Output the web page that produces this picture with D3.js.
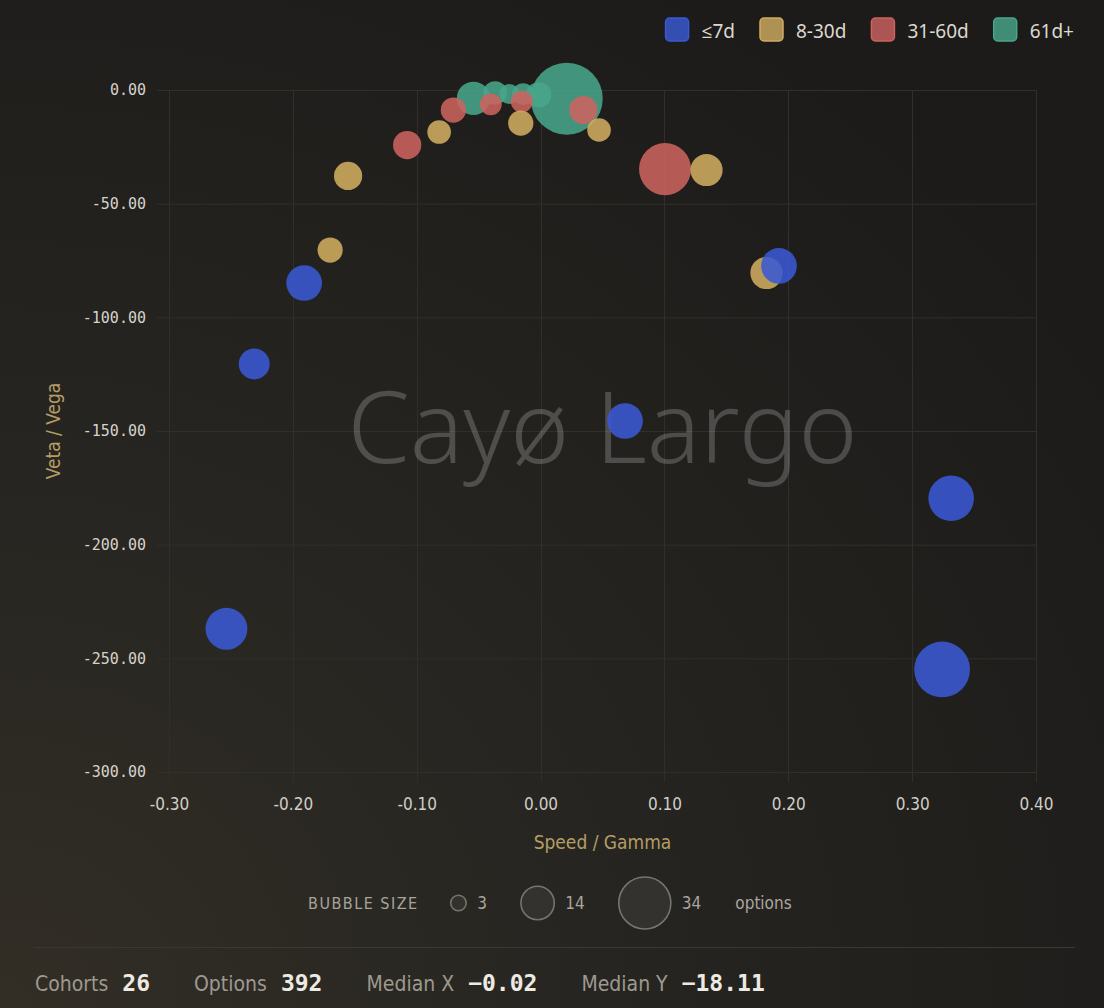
<!DOCTYPE html>
<html><head><meta charset="utf-8">
<script src="https://cdn.jsdelivr.net/npm/d3@7"></script>
<style>
html,body{margin:0;padding:0;background:#1e1d1b;overflow:hidden;}
svg{display:block;}
.cond{font-family:"DejaVu Sans Condensed","DejaVu Sans",sans-serif;font-stretch:condensed;}
.mono{font-family:"DejaVu Sans Mono",monospace;}
.sans{font-family:"Noto Sans","Open Sans",sans-serif;}
</style></head><body>
<svg id="chart" width="1104" height="1008"></svg>
<script>
// ---------- data ----------
const groups = ["≤7d", "8-30d", "31-60d", "61d+"];
const speedBlue  = [-0.2536, -0.2312, -0.1909, 0.0682, 0.1925, 0.3315, 0.3242];
const vetaBlue   = [-237.0, -120.5, -84.9, -145.6, -77.4, -179.6, -254.9];
const countBlue  = [22, 12, 16, 16, 16, 26, 39];
const speedGold  = [-0.1699, -0.1554, -0.0819, -0.0160, 0.0472, 0.1340, 0.1824];
const vetaGold   = [-70.4, -37.8, -18.5, -14.6, -17.6, -35.2, -80.5];
const countGold  = [8, 10, 7, 8, 7, 13, 13];
const speedRed   = [-0.1077, -0.0704, -0.0402, -0.0152, 0.0345, 0.1005];
const vetaRed    = [-24.2, -8.8, -6.3, -5.1, -8.8, -34.8];
const countRed   = [10, 8, 6, 6, 10, 34];
const speedGreen = [-0.0542, -0.0367, -0.0252, -0.0141, -0.0015, 0.0211];
const vetaGreen  = [-3.7, -1.3, -1.8, -1.8, -2.1, -3.8];
const countGreen = [14, 7, 5, 6, 8, 65];
const xTicks = [-0.3, -0.2, -0.1, 0, 0.1, 0.2, 0.3, 0.4];
const yTicks = [0, -50, -100, -150, -200, -250, -300];
const sizeLegendValues = [3, 14, 34];
const footerLabels = ["Cohorts", "Options", "Median X", "Median Y"];
const footerValues = ["26", "392", "\u22120.02", "\u221218.11"];
const watermarkText = "Cayø Largo";
const xTitle = "Speed / Gamma";
const yTitle = "Veta / Vega";

// ---------- styles ----------
const colors = ["#3a59d4", "#cfad60", "#cc635f", "#48a68a"];
const W = 1104, H = 1008;
const M = {left: 169, right: 1036, top: 90, bottom: 772};

const seriesSpeed = [speedBlue, speedGold, speedRed, speedGreen];
const seriesVeta = [vetaBlue, vetaGold, vetaRed, vetaGreen];
const seriesCount = [countBlue, countGold, countRed, countGreen];
const points = [];
groups.forEach((g, gi) => {
  seriesSpeed[gi].forEach((s, i) => points.push({g: gi, x: s, y: seriesVeta[gi][i], n: seriesCount[gi][i]}));
});

const svg = d3.select("#chart");
const defs = svg.append("defs");
const rg = defs.append("radialGradient").attr("id", "bg").attr("cx", "0%").attr("cy", "100%").attr("r", "120%");
rg.append("stop").attr("offset", "0%").attr("stop-color", "#322e26");
rg.append("stop").attr("offset", "55%").attr("stop-color", "#242320");
rg.append("stop").attr("offset", "100%").attr("stop-color", "#1c1b19");
svg.append("rect").attr("width", W).attr("height", H).attr("fill", "url(#bg)");

const x = d3.scaleLinear().domain([-0.3, 0.4]).range([M.left, M.right]);
const y = d3.scaleLinear().domain([-300, 0]).range([M.bottom, M.top]);
const r = d3.scaleSqrt().domain([0, 65]).range([0, 36]);
const fmt = d => d3.format(".2f")(d).replace("\u2212", "-");

// grid
const grid = svg.append("g").attr("stroke", "#302f2b").attr("stroke-width", 1);
grid.selectAll("line.h").data(yTicks).join("line")
  .attr("x1", M.left - 12).attr("x2", M.right)
  .attr("y1", d => y(d) + 0.5).attr("y2", d => y(d) + 0.5);
grid.selectAll("line.v").data(xTicks).join("line")
  .attr("y1", M.top).attr("y2", M.bottom + 10)
  .attr("x1", d => Math.round(x(d)) + 0.5).attr("x2", d => Math.round(x(d)) + 0.5);

// axes (labels only)
const yAxis = svg.append("g").attr("transform", `translate(${M.left},0)`)
  .call(d3.axisLeft(y).tickValues(yTicks).tickFormat(fmt).tickSize(0).tickPadding(23));
yAxis.select(".domain").remove();
yAxis.selectAll("text").attr("class", "mono").attr("font-size", 15).attr("fill", "#d6d2c9");

const xAxis = svg.append("g").attr("transform", `translate(0,${M.bottom})`)
  .call(d3.axisBottom(x).tickValues(xTicks).tickFormat(fmt).tickSize(0).tickPadding(26));
xAxis.select(".domain").remove();
xAxis.selectAll("text").attr("class", "cond").attr("font-size", 17).attr("fill", "#d2cec5");

svg.append("text").attr("class", "cond").attr("x", (M.left + M.right) / 2).attr("y", 849)
  .attr("text-anchor", "middle").attr("font-size", 19).attr("fill", "#b59d63").text(xTitle);
svg.append("text").attr("class", "cond").attr("transform", `translate(60,${(M.top + M.bottom) / 2}) rotate(-90)`)
  .attr("text-anchor", "middle").attr("font-size", 19).attr("fill", "#b59d63").text(yTitle);

// watermark
svg.append("text").attr("class", "sans").attr("x", (M.left + M.right) / 2).attr("y", 463)
  .attr("text-anchor", "middle").attr("font-size", 100).attr("font-weight", 300)
  .attr("fill", "#ffffff").attr("fill-opacity", 0.2).text(watermarkText);

// bubbles: draw last group first
const order = [3, 2, 1, 0];
const bub = svg.append("g");
order.forEach(gi => {
  bub.selectAll(null).data(points.filter(p => p.g === gi)).join("circle")
    .attr("cx", d => x(d.x)).attr("cy", d => y(d.y)).attr("r", d => r(d.n))
    .attr("fill", colors[gi]).attr("fill-opacity", 0.88);
});

// legend top-right (flow, right aligned at 1074)
const leg = svg.append("g");
let lx = 0;
groups.forEach((g, i) => {
  const it = leg.append("g");
  it.append("rect").attr("x", 0).attr("y", 18).attr("width", 23).attr("height", 23).attr("rx", 4)
    .attr("fill", colors[i]).attr("fill-opacity", 0.82).attr("stroke", colors[i]).attr("stroke-width", 1.5);
  const t = it.append("text").attr("class", "sans").attr("x", 36).attr("y", 37.5).attr("font-size", 19)
    .attr("fill", "#ddd9d0").text(g);
  const w = 36 + t.node().getComputedTextLength();
  it.attr("transform", `translate(${lx},0)`);
  lx += w + 25;
});
const legW = lx - 25;
leg.attr("transform", `translate(${1074 - legW},0)`);

// bubble size legend
const sl = svg.append("g");
let sx = 0;
const slTitle = sl.append("text").attr("class", "cond").attr("x", 0).attr("y", 909).attr("font-size", 16)
  .attr("letter-spacing", "1.5px").attr("fill", "#a8a49b").text("BUBBLE SIZE");
sx += slTitle.node().getComputedTextLength() + 32;
sizeLegendValues.forEach(v => {
  const rr = r(v);
  sl.append("circle").attr("cx", sx + rr).attr("cy", 903).attr("r", rr)
    .attr("fill", "#34322e").attr("stroke", "#77746d").attr("stroke-width", 1.6);
  sx += 2 * rr + 11;
  const t = sl.append("text").attr("class", "cond").attr("x", sx).attr("y", 909).attr("font-size", 17)
    .attr("fill", "#aaa69d").text(v);
  sx += t.node().getComputedTextLength() + 34;
});
sl.append("text").attr("class", "cond").attr("x", sx).attr("y", 909).attr("font-size", 17)
  .attr("fill", "#aaa69d").text("options");
sl.attr("transform", `translate(${308},0)`);

// footer
svg.append("line").attr("x1", 34).attr("x2", 1075).attr("y1", 947.5).attr("y2", 947.5)
  .attr("stroke", "#3a3833").attr("stroke-width", 1.2);
let fx = 35;
footerLabels.forEach((lab, i) => {
  const a = svg.append("text").attr("class", "cond").attr("x", fx).attr("y", 991).attr("font-size", 21)
    .attr("fill", "#9d9990").text(lab);
  fx += a.node().getComputedTextLength() + 14;
  const b = svg.append("text").attr("class", "mono").attr("x", fx).attr("y", 991).attr("font-size", 23)
    .attr("font-weight", "bold").attr("fill", "#eeeae1").text(footerValues[i]);
  fx += b.node().getComputedTextLength() + 44;
});
</script>
</body></html>
